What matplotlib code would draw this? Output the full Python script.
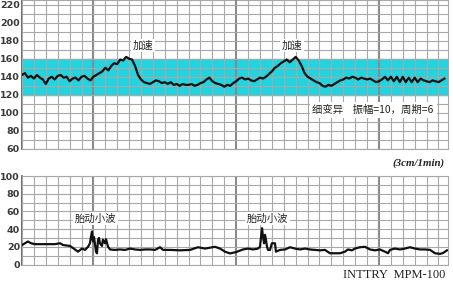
import numpy as np
import matplotlib.pyplot as plt
from matplotlib.ticker import MultipleLocator, FixedLocator

plt.rcParams['font.family'] = ['Noto Sans CJK SC', 'DejaVu Sans']

# fetal heart rate (bpm), one sample every 0.25 grid cell
fhr_step = 0.25
fhr = [142, 144, 139, 141, 138, 142, 139, 137, 132, 138,
       140, 137, 141, 142, 139, 140, 135, 138, 139, 136,
       140, 141, 138, 136, 140, 142, 144, 146, 150, 147,
       152, 155, 154, 159, 158, 162, 160, 159, 152, 142,
       137, 134, 133, 132, 134, 136, 135, 133, 134, 132,
       134, 131, 132, 130, 132, 131, 131, 132, 130, 131,
       133, 134, 137, 139, 135, 133, 132, 131, 129, 131,
       130, 133, 135, 138, 139, 137, 138, 136, 135, 137,
       139, 138, 140, 143, 146, 150, 152, 155, 157, 159,
       156, 159, 162, 158, 152, 144, 140, 138, 136, 134,
       133, 130, 129, 131, 130, 132, 134, 136, 137, 139,
       138, 140, 139, 137, 139, 138, 137, 138, 136, 134,
       135, 137, 140, 136, 140, 135, 140, 134, 140, 134,
       139, 134, 139, 134, 138, 136, 135, 134, 136, 135,
       134, 136, 138]

# uterine contraction / fetal movement trace
toco_x = [0.0, 0.5, 0.76, 1.1, 1.93, 2.77, 3.2, 3.45, 4.03, 4.45,
          4.7, 5.04, 5.3, 5.55, 5.71, 5.8, 5.88, 5.97, 6.05, 6.22,
          6.3, 6.39, 6.47, 6.55, 6.72, 6.8, 6.89, 6.97, 7.06, 7.23,
          7.4, 7.8, 8.24, 8.66, 9.08, 9.5, 9.92, 10.34, 10.76, 11.18,
          11.6, 11.85, 12.44, 13.28, 14.12, 14.79, 15.38, 15.8, 16.22, 16.64,
          17.06, 17.48, 17.98, 18.57, 19.0, 19.41, 19.83, 20.0, 20.08, 20.17,
          20.25, 20.34, 20.42, 20.5, 20.59, 20.67, 20.84, 21.0, 21.26, 21.34,
          21.68, 22.1, 22.52, 22.94, 23.36, 23.78, 24.2, 24.62, 25.04, 25.46,
          25.88, 26.3, 26.72, 27.14, 27.39, 27.73, 27.98, 28.4, 28.82, 29.24,
          29.66, 30.08, 30.5, 30.76, 30.92, 31.34, 31.76, 32.18, 32.6, 33.03,
          33.45, 33.87, 34.29, 34.71, 35.13, 35.38, 35.71]
toco_y = [22, 26, 24, 23, 23, 23, 24, 22, 21, 17,
          14.5, 18, 16.5, 20, 24, 31.5, 37, 26, 31, 14.5,
          12.7, 28, 30, 24, 21, 28, 26, 24, 28.6, 20,
          17, 16.5, 17, 16.5, 18, 17, 16.5, 17, 17, 16.5,
          19.5, 16.5, 16.5, 16, 16.5, 19.5, 18, 19, 20, 18,
          14.5, 12.5, 14, 17, 18, 17, 18, 20, 30, 41,
          31.5, 24, 33.5, 28, 20, 16.5, 16.5, 24, 24, 14.5,
          16.5, 17, 19.5, 18, 17, 18, 17, 16.5, 16, 16.5,
          12.7, 12.7, 12.7, 14.5, 17, 16, 18, 19.5, 20, 17,
          16, 17, 14.5, 12.7, 16.5, 18, 17, 18, 19.5, 18,
          17, 17, 16.5, 12.7, 12, 13, 16]

normal_band = (120, 160)
fhr_ticks = list(range(60, 221, 20))
toco_ticks = list(range(0, 101, 20))
minute_lines = [6, 18, 30]

fhr_notes = [(10.2, 174.5, '加速'), (22.7, 174.5, '加速')]
variability_note = (24.4, 103.5, '细变异    振幅=10，周期=6')
toco_notes = [(6.2, 52, '胎动小波'), (20.6, 52, '胎动小波')]

W, H = 453, 287
fig = plt.figure(figsize=(W / 100, H / 100), dpi=100)
fig.patch.set_facecolor('white')

ax1 = fig.add_axes([22 / W, 1 - 149 / H, 426 / W, 149 / H])
ax2 = fig.add_axes([22 / W, 1 - 264.5 / H, 426 / W, 88.5 / H])

xmax = 426 / 11.9


def style_grid(ax, ticks, ylim):
    ax.set_xlim(0, xmax)
    ax.set_ylim(*ylim)
    ax.set_yticks(ticks)
    ax.yaxis.set_minor_locator(MultipleLocator(10))
    ax.xaxis.set_major_locator(FixedLocator(minute_lines))
    ax.xaxis.set_minor_locator(MultipleLocator(1))
    ax.grid(which='minor', color='#a8a8a8', lw=0.8)
    ax.grid(which='major', axis='y', color='#a8a8a8', lw=0.8)
    ax.grid(which='major', axis='x', color='#8a8a8a', lw=1.5)
    ax.set_axisbelow(False)
    ax.tick_params(which='both', length=0)
    ax.tick_params(axis='y', pad=1.5, labelsize=6.8, labelcolor='#3a3a3a')
    for lab in ax.get_yticklabels():
        lab.set_fontweight('bold')
        lab.set_family('DejaVu Sans')
    ax.set_xticklabels([])
    for s in ax.spines.values():
        s.set_color('#a8a8a8')
        s.set_linewidth(0.8)
    ax.spines['left'].set_color('#555555')
    ax.spines['left'].set_linewidth(1.2)


ax1.axhspan(normal_band[0], normal_band[1], color='#22d4e0', zorder=0)
style_grid(ax1, fhr_ticks, (60, 225))
style_grid(ax2, toco_ticks, (0, 100))

t = np.arange(len(fhr)) * fhr_step
ax1.plot(t, fhr, color='#111111', lw=1.6, zorder=5)
ax2.plot(toco_x, toco_y, color='#111111', lw=1.6, zorder=5)

box = dict(facecolor='white', edgecolor='none', pad=1.2)
for x, y, s in fhr_notes:
    ax1.text(x, y, s, ha='center', va='center', fontsize=7.5, color='#222222',
             bbox=box, zorder=6)
ax1.text(variability_note[0], variability_note[1], variability_note[2],
         ha='left', va='center', fontsize=7.5, color='#222222',
         bbox=dict(facecolor='white', edgecolor='none', pad=2), zorder=6)
for x, y, s in toco_notes:
    ax2.text(x, y, s, ha='center', va='center', fontsize=7.5, color='#222222',
             bbox=box, zorder=6)

fig.text(445 / W, 1 - 163 / H, '(3cm/1min)', ha='right', va='center',
         fontsize=7.8, fontweight='bold', style='italic',
         family='Liberation Serif', color='#222222')
fig.text(445 / W, 1 - 275 / H, 'INTTRY  MPM-100', ha='right', va='center',
         fontsize=9, family='Liberation Serif', color='#222222')

fig.savefig('out.png', dpi=100)
